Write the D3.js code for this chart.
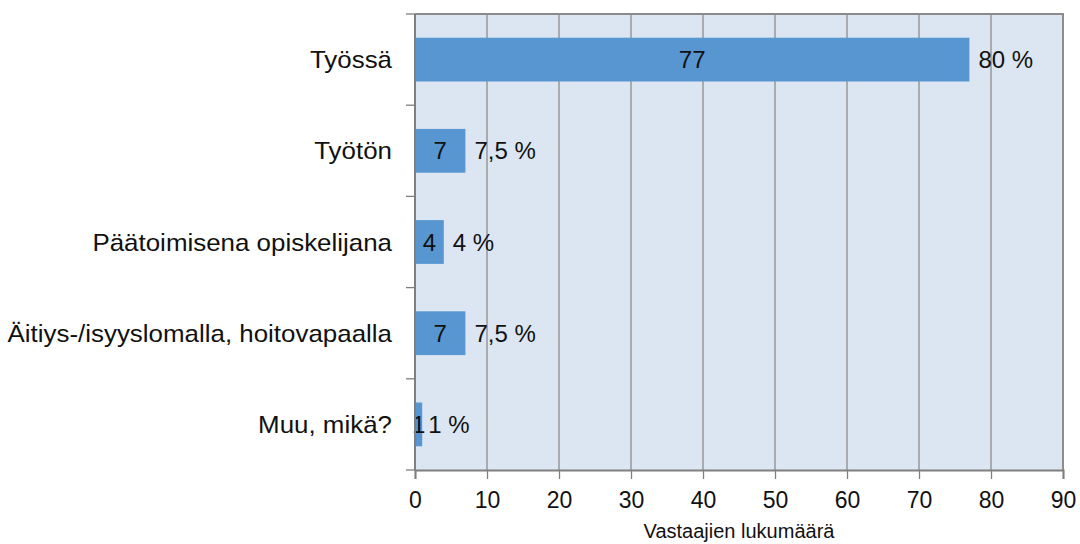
<!DOCTYPE html>
<html>
  <head>
    <meta charset="utf-8" />
    <script src="https://d3js.org/d3.v7.min.js"></script>
    <style>
      body { margin: 0; background: white; }
      text { font-family: "Liberation Sans", Arial, sans-serif; fill: #111; }
    </style>
  </head>
  <body>
    <svg id="canvas" width="1080" height="544"></svg>
    <script>
      const categories = [
        "Työssä",
        "Työtön",
        "Päätoimisena opiskelijana",
        "Äitiys-/isyyslomalla, hoitovapaalla",
        "Muu, mikä?"
      ];
      const counts = [77, 7, 4, 7, 1];
      const percents = ["80 %", "7,5 %", "4 %", "7,5 %", "1 %"];
      const xTicks = [0, 10, 20, 30, 40, 50, 60, 70, 80, 90];

      const margin = { top: 14, left: 415, right: 17, bottom: 74 };
      const width = 1080 - margin.left - margin.right;
      const height = 544 - margin.top - margin.bottom;

      const svg = d3.select("#canvas");
      const chart = svg.append("g")
        .attr("transform", `translate(${margin.left},${margin.top})`);

      const x = d3.scaleLinear().domain([0, 90]).range([0, width]);
      const y = d3.scaleBand().domain(categories).range([0, height]).paddingInner(0.52).paddingOuter(0.26);

      // background
      chart.append("rect")
        .attr("width", width).attr("height", height)
        .attr("fill", "#dce6f2");

      // gridlines
      chart.append("g").selectAll("line")
        .data(xTicks.slice(1))
        .enter().append("line")
        .attr("x1", d => x(d)).attr("x2", d => x(d))
        .attr("y1", 0).attr("y2", height)
        .attr("stroke", "#8c8c8c").attr("stroke-width", 1.3);

      // top/right border
      chart.append("path")
        .attr("d", `M0,0H${width}V${height}`)
        .attr("fill", "none").attr("stroke", "#8c8c8c").attr("stroke-width", 2);

      // bars
      chart.append("g").selectAll("rect")
        .data(categories)
        .enter().append("rect")
        .attr("x", 0)
        .attr("y", d => y(d))
        .attr("width", (d, i) => x(counts[i]))
        .attr("height", y.bandwidth())
        .attr("fill", "#5896d2");

      // count labels inside bars
      chart.append("g").selectAll("text")
        .data(categories)
        .enter().append("text")
        .attr("x", (d, i) => x(counts[i]) / 2)
        .attr("y", d => y(d) + y.bandwidth() / 2)
        .attr("dy", "0.36em")
        .attr("text-anchor", "middle")
        .style("font-size", "24px")
        .text((d, i) => counts[i]);

      // percent labels
      chart.append("g").selectAll("text")
        .data(categories)
        .enter().append("text")
        .attr("x", (d, i) => x(counts[i]) + (counts[i] < 2 ? 6 : 9))
        .attr("y", d => y(d) + y.bandwidth() / 2)
        .attr("dy", "0.36em")
        .style("font-size", "24px")
        .text((d, i) => percents[i]);

      // y axis
      const yAxisG = chart.append("g");
      yAxisG.append("line")
        .attr("x1", 0).attr("x2", 0).attr("y1", 0).attr("y2", height)
        .attr("stroke", "#7f7f7f").attr("stroke-width", 2);
      const step = y.step();
      yAxisG.selectAll("line.tick")
        .data(d3.range(categories.length + 1))
        .enter().append("line")
        .attr("class", "tick")
        .attr("x1", -9).attr("x2", 0)
        .attr("y1", i => i * step).attr("y2", i => i * step)
        .attr("stroke", "#7f7f7f").attr("stroke-width", 1.3);
      yAxisG.selectAll("text")
        .data(categories)
        .enter().append("text")
        .attr("transform", d => `translate(-23,${y(d) + y.bandwidth() / 2}) scale(1.08,1)`)
        .attr("dy", "0.36em")
        .attr("text-anchor", "end")
        .style("font-size", "24px")
        .text(d => d);

      // x axis
      const xAxis = d3.axisBottom(x).tickValues(xTicks).tickSize(9).tickPadding(13);
      const xG = chart.append("g")
        .attr("transform", `translate(0,${height})`)
        .call(xAxis);
      xG.select(".domain").attr("stroke", "#7f7f7f").attr("stroke-width", 2);
      xG.selectAll(".tick line").attr("stroke", "#7f7f7f").attr("stroke-width", 1.3);
      xG.selectAll(".tick text")
        .style("font-size", "23px")
        .style("font-family", "'Liberation Sans', Arial, sans-serif")
        .attr("fill", "#111");

      svg.append("text")
        .attr("x", margin.left + width / 2)
        .attr("y", 538)
        .attr("text-anchor", "middle")
        .style("font-size", "20px")
        .text("Vastaajien lukumäärä");
    </script>
  </body>
</html>
